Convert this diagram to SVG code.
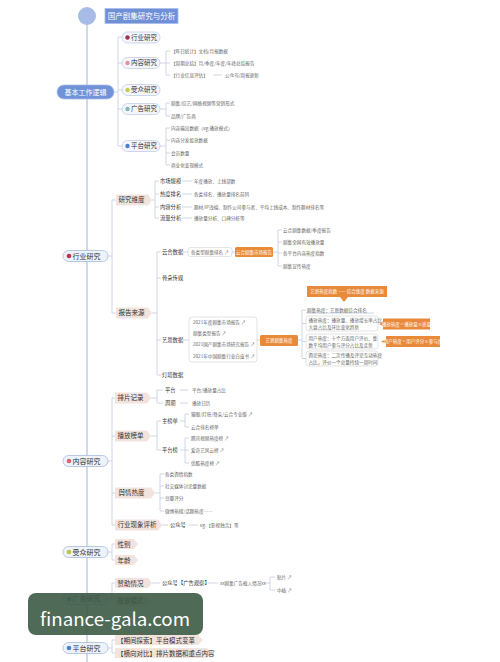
<svg xmlns="http://www.w3.org/2000/svg" width="500" height="662" viewBox="0 0 500 662">
<style>
text{font-family:"Noto Sans CJK SC","Noto Sans",sans-serif}
.ln{stroke:#c9d1e2;fill:none;stroke-width:0.9}
.sp{stroke:#c5cfe4;fill:none;stroke-width:1.6}
.p1{fill:#eef2fb;stroke:#a9badf;stroke-width:0.8}
.p1t{font-size:7px;fill:#333}
.p2{fill:#f4f6fb;stroke:#bac7e3;stroke-width:0.7}
.p2t{font-size:6.5px;fill:#333}
.tag{fill:#f3e3dd}
.tagt{font-size:6.5px;fill:#333}
.lb{font-size:5.3px;fill:#333}
.sm{font-size:4.6px;fill:#666}
.box{fill:#fff;stroke:#d2d2d2;stroke-width:0.6}
.or{fill:#e98a3a}
.ort{font-size:4.5px;fill:#fff}
</style>
<rect width="500" height="662" fill="#ffffff"/>

<g id="connectors">
<line class="sp" x1="87" y1="24" x2="87" y2="662"/>
<path class="ln" d="M114,92H118M118,37V146M118,37H122M118,63H122M118,90H122M118,109H122M118,146H122"/>
<path class="ln" d="M160,63H166M166,51V75M166,51H170M166,63H170M166,75H170M213,75H222"/>
<path class="ln" d="M160,109H166M166,103V116M166,103H170M166,116H170"/>
<path class="ln" d="M160,146H166M166,128V165M166,128H170M166,140H170M166,153H170M166,165H170"/>
<path class="ln" d="M108,256H112M112,200V313M112,200H116M112,313H116"/>
<path class="ln" d="M152,200H155M155,181V218M155,181H159M155,194H159M155,207H159M155,218H159M182,181H192M182,194H192M182,207H192M182,218H192"/>
<path class="ln" d="M152,313H157M157,252V375M157,252H161M157,278H161M157,340H161M157,375H161"/>
<path class="ln" d="M183,252H188M232,252H235M273,252H278M278,230V266M278,230H282M278,242H282M278,253H282M278,266H282"/>
<path class="ln" d="M183,340H189M257,340H260M298,340H302M302,310V358.5M302,310H306M302,323.5H306M302,341.5H306M302,358.5H306M306,313H374"/>
<path class="ln" d="M108,461H112M112,398V525M112,398H115M112,436H115M112,493H115M112,525H115"/>
<path class="ln" d="M151,398H157M157,390V403M157,390H163M157,403H163M180,390H188M180,403H188"/>
<path class="ln" d="M151,436H157M157,421V450M157,421H161M157,450H161M180,421H185M185,414V427M185,414H189M185,427H189M180,450H185M185,438V463M185,438H189M185,450H189M185,463H189"/>
<path class="ln" d="M155,493H160M160,474V511M160,474H164M160,486H164M160,498H164M160,511H164"/>
<path class="ln" d="M162,525H168M188,525H198"/>
<path class="ln" d="M108,552H112M112,544V560M112,544H115M112,560H115"/>
<path class="ln" d="M108,599H112M112,583V601.5M112,583H115M112,601.5H115M152,583H160M208,583H218M264,583H270M270,577V590M270,577H275M270,590H275"/>
<path class="ln" d="M108,648H112M112,640V653M112,640H115M112,653H115"/>
</g>

<g id="title">
<circle cx="87" cy="16" r="9" fill="#a6bce6"/>
<rect x="105" y="8.5" width="73" height="15" fill="#6f8fd6" stroke="#a9bfe9" stroke-width="0.8"/>
<text x="141.5" y="18.8" font-size="7.5" fill="#fff" text-anchor="middle">国产剧集研究与分析</text>
</g>

<g id="basic">
<rect x="57" y="85" width="57" height="14" rx="7" fill="#6f92d8" stroke="#a9bde6" stroke-width="0.8"/>
<text x="85.5" y="94.5" font-size="7" fill="#fff" text-anchor="middle">基本工作逻辑</text>
</g>

<g id="b-hangye">
<rect class="p2" x="122" y="32" width="38" height="11" rx="5.5"/>
<circle cx="127.5" cy="37.5" r="2.2" fill="#a3324c"/>
<text class="p2t" x="131" y="39.8">行业研究</text>
</g>
<g id="b-neirong">
<rect class="p2" x="122" y="57.5" width="38" height="11" rx="5.5"/>
<circle cx="127.5" cy="63" r="2.2" fill="#e88e9c"/>
<text class="p2t" x="131" y="65.3">内容研究</text>
<text class="sm" x="171" y="52.7">【昨日统计】文档/月报数据</text>
<text class="sm" x="171" y="64.7">【周期总结】月/季度/年度/年终总结报告</text>
<text class="sm" x="171" y="76.7">【行业信息评估】</text>
<text class="sm" x="225" y="76.7">公众号/周报更新</text>
</g>
<g id="b-shouzhong">
<rect class="p2" x="122" y="84.5" width="38" height="11" rx="5.5"/>
<circle cx="127.5" cy="90" r="2.2" fill="#c4cf44"/>
<text class="p2t" x="131" y="92.3">受众研究</text>
</g>
<g id="b-guanggao">
<rect class="p2" x="122" y="103.5" width="38" height="11" rx="5.5"/>
<circle cx="127.5" cy="109" r="2.2" fill="#86b4bd"/>
<text class="p2t" x="131" y="111.3">广告研究</text>
<text class="sm" x="171" y="104.7">剧集/综艺/网络视频等营销形式</text>
<text class="sm" x="171" y="117.7">品牌/广告商</text>
</g>
<g id="b-pingtai">
<rect class="p2" x="122" y="140.5" width="38" height="11" rx="5.5"/>
<circle cx="127.5" cy="146" r="2.2" fill="#4a80d0"/>
<text class="p2t" x="131" y="148.3">平台研究</text>
<text class="sm" x="171" y="129.7">内容输出数据（eg.播放模式）</text>
<text class="sm" x="171" y="141.7">内容分发投放数据</text>
<text class="sm" x="171" y="154.7">会员数量</text>
<text class="sm" x="171" y="166.7">商业化变现模式</text>
</g>

<g id="hangye">
<rect class="p1" x="63" y="250.5" width="45" height="11" rx="5.5"/>
<circle cx="69" cy="256" r="2.3" fill="#c0304a"/>
<text class="p1t" x="72.5" y="258.5">行业研究</text>
</g>
<g id="yanjiuweidu">
<path class="tag" d="M116,194.5H148L152,200L148,205.5H116Z"/>
<text class="tagt" x="118.5" y="202.3">研究维度</text>
<text class="lb" x="160" y="183">市场规模</text>
<text class="lb" x="160" y="196">热度排名</text>
<text class="lb" x="160" y="209">内容分析</text>
<text class="lb" x="160" y="220">流量分析</text>
<text class="sm" x="194" y="182.7">年度播放、上线部数</text>
<text class="sm" x="194" y="195.7">各类排名、播放量排名前列</text>
<text class="sm" x="194" y="208.7">题材/IP改编、制作公司参与者、平均上线成本、制作题材排名等</text>
<text class="sm" x="194" y="219.7">播放量分析、口碑分析等</text>
</g>
<g id="baogaolaiyuan">
<path class="tag" d="M116,307.5H148L152,313L148,318.5H116Z"/>
<text class="tagt" x="118.5" y="315.3">报告来源</text>
<text class="lb" x="162" y="254">云合数据</text>
<text class="lb" x="162" y="280">骨朵传媒</text>
<text class="lb" x="162" y="342">艺恩数据</text>
<text class="lb" x="162" y="377">灯塔数据</text>
</g>
<g id="yunhe">
<rect class="box" x="188" y="247.5" width="44" height="9" rx="2.5"/>
<text class="sm" x="191" y="253.7">各类型剧集排名 ↗</text>
<rect class="or" x="235" y="247" width="38" height="10" rx="1.5"/>
<text class="ort" x="254" y="253.6" text-anchor="middle">云合剧集市场报告</text>
<text class="sm" x="283" y="231.7">云合剧集数据/季度报告</text>
<text class="sm" x="283" y="243.7">剧集全网有效播放量</text>
<text class="sm" x="283" y="254.7">各平台内容热度指数</text>
<text class="sm" x="283" y="267.7">剧集宣传热度</text>
</g>
<g id="yien">
<rect class="box" x="189" y="317" width="68" height="45" rx="3"/>
<text class="sm" x="193" y="323.7">2021年度剧集市场报告 ↗</text>
<text class="sm" x="193" y="334.7">剧集类型报告 ↗</text>
<text class="sm" x="193" y="345.7">2021国产剧集市场研究报告 ↗</text>
<text class="sm" x="193" y="357.7">2021年中国剧集行业白皮书 ↗</text>
<rect class="or" x="260" y="335" width="38" height="11" rx="1.5"/>
<text class="ort" x="279" y="342" text-anchor="middle">艺恩剧集热度</text>
<text class="sm" x="307" y="311.5">剧集热度：艺恩数据综合排名</text>
<rect class="box" x="306" y="316" width="72" height="15" rx="3"/>
<text class="sm" x="308.5" y="322">播放热度：播放量、播放增长率占比，</text>
<text class="sm" x="308.5" y="328.5">大盘占比及环比变化趋势</text>
<rect class="box" x="306" y="334" width="72" height="15" rx="3"/>
<text class="sm" x="308.5" y="340">用户热度：十个方面用户评价、集</text>
<text class="sm" x="308.5" y="346.5">数平均用户参与评分占比及走势</text>
<rect class="box" x="306" y="351" width="72" height="15" rx="3"/>
<text class="sm" x="308.5" y="357">舆论热度：二次传播及评论互动热度</text>
<text class="sm" x="308.5" y="363.5">占比，评价一个总量持续一周时间</text>
</g>
<g id="callouts">
<path class="or" d="M307,286H387V297H348L344,302L340,297H307Z"/>
<text class="ort" x="347" y="293.2" text-anchor="middle">艺恩热度指数 —— 综合维度 数据来源</text>
<path class="or" d="M383,318.5H430V329.5H383V326L379,324L383,322Z"/>
<text class="ort" x="406.5" y="325.7" text-anchor="middle">播放热度 = 播放量×质量</text>
<path class="or" d="M386,336H440V347H386V343.5L381,341.5L386,339.5Z"/>
<text class="ort" x="413" y="343.2" text-anchor="middle">用户热度 = 用户评分×参与度</text>
</g>

<g id="neirong">
<rect class="p1" x="63" y="455.5" width="45" height="11" rx="5.5"/>
<circle cx="69" cy="461" r="2.3" fill="#e0606e"/>
<text class="p1t" x="72.5" y="463.5">内容研究</text>
</g>
<g id="paipian">
<path class="tag" d="M115,392.5H147L151,398L147,403.5H115Z"/>
<text class="tagt" x="117.5" y="400.3">排片记录</text>
<text class="lb" x="165" y="392">平台</text>
<text class="lb" x="165" y="405">周期</text>
<text class="sm" x="192" y="391.7">平台/播放量占比</text>
<text class="sm" x="192" y="404.7">播放日历</text>
</g>
<g id="bofang">
<path class="tag" d="M115,430.5H147L151,436L147,441.5H115Z"/>
<text class="tagt" x="117.5" y="438.3">播放榜单</text>
<text class="lb" x="162" y="423">主榜单</text>
<text class="lb" x="162" y="452">平台榜</text>
<text class="sm" x="191" y="415.7">猫眼/灯塔/骨朵/云合专业版 ↗</text>
<text class="sm" x="191" y="428.7">云合排名榜单</text>
<text class="sm" x="191" y="439.7">腾讯视频热度榜 ↗</text>
<text class="sm" x="191" y="451.7">爱奇艺风云榜 ↗</text>
<text class="sm" x="191" y="464.7">优酷热度榜 ↗</text>
</g>
<g id="yuqing">
<path class="tag" d="M115,487.5H151L155,493L151,498.5H115Z"/>
<text class="tagt" x="118.5" y="495.3">舆情热度</text>
<text class="sm" x="165" y="475.7">各类舆情指数</text>
<text class="sm" x="165" y="487.7">社交媒体讨论量数据</text>
<text class="sm" x="165" y="499.7">豆瓣评分</text>
<text class="sm" x="165" y="512.7">微博热搜/话题热度……</text>
</g>
<g id="xianxiang">
<path class="tag" d="M115,519.5H158L162,525L158,530.5H115Z"/>
<text class="tagt" x="117.5" y="527.3">行业现象评析</text>
<text class="lb" x="170" y="527">公众号</text>
<text class="sm" x="200" y="526.7">eg.【影视独舌】等</text>
</g>

<g id="shouzhong">
<rect class="p1" x="63" y="546.5" width="45" height="11" rx="5.5"/>
<circle cx="69" cy="552" r="2.3" fill="#b8c83e"/>
<text class="p1t" x="72.5" y="554.5">受众研究</text>
<path class="tag" d="M115,539H134L138,544L134,549H115Z"/>
<text class="tagt" x="117.5" y="546.5">性别</text>
<path class="tag" d="M115,555H134L138,560L134,565H115Z"/>
<text class="tagt" x="117.5" y="562.5">年龄</text>
</g>

<g id="guanggao">
<rect class="p1" x="63" y="593.5" width="45" height="11" rx="5.5"/>
<circle cx="69" cy="599" r="2.3" fill="#5a9fa2"/>
<text class="p1t" x="72.5" y="601.3">广告研究</text>
<path class="tag" d="M115,578H148L152,583L148,588H115Z"/>
<text class="tagt" x="117.5" y="585.5">赞助情况</text>
<path class="tag" d="M115,596.5H146L150,601.5L146,606.5H115Z"/>
<text class="tagt" x="117.5" y="603.3">投放模式</text>
<text class="lb" x="162" y="585">公众号【广告观察】</text>
<text class="sm" x="220" y="584.6">xx剧集广告植入情况xx</text>
<text class="sm" x="277" y="578.6">贴片 ↗</text>
<text class="sm" x="277" y="591.6">中插 ↗</text>
</g>

<g id="pingtai">
<rect class="p1" x="63" y="642.5" width="45" height="11" rx="5.5"/>
<circle cx="69" cy="648" r="2.3" fill="#4a80d0"/>
<text class="p1t" x="72.5" y="650.5">平台研究</text>
<path class="tag" d="M115,635H198L203,640L198,645H115Z"/>
<text class="tagt" x="117" y="642.5">【期间探索】平台模式变革</text>
<path class="tag" d="M115,648H207L212,653L207,658H115Z"/>
<text class="tagt" x="117" y="655.5">【横向对比】排片数据和重点内容</text>
</g>

<g id="watermark">
<rect x="28" y="593" width="175" height="42" rx="8" fill="#3d5a46" opacity="0.9"/>
<text x="40" y="626" font-family="Open Sans, sans-serif" font-size="18" fill="#fff" textLength="150" lengthAdjust="spacingAndGlyphs">finance-gala.com</text>
</g>
</svg>
